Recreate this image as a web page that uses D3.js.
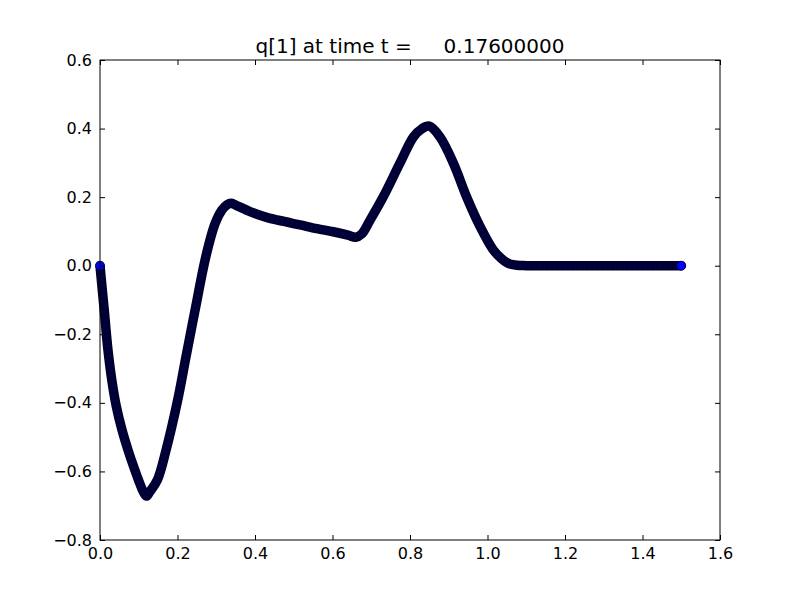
<!DOCTYPE html>
<html>
<head>
<meta charset="utf-8">
<script src="https://cdn.jsdelivr.net/npm/d3@7"></script>
<style>
  body { margin: 0; background: #fff; }
  svg { font-family: "DejaVu Sans", sans-serif; }
</style>
</head>
<body>
<div id="chart"></div>
<script>
// values
var xVals = [0, 0.005, 0.011, 0.020, 0.030, 0.042, 0.057, 0.073, 0.088, 0.100, 0.112, 0.120,
  0.128, 0.148, 0.170, 0.199, 0.222, 0.247, 0.273, 0.297, 0.315, 0.328, 0.338, 0.350, 0.387,
  0.430, 0.475, 0.516, 0.560, 0.602, 0.640, 0.660, 0.675, 0.697, 0.731, 0.774, 0.809, 0.830,
  0.850, 0.877, 0.912, 0.946, 0.981, 1.015, 1.035, 1.049, 1.065, 1.1, 1.2, 1.3, 1.4, 1.5];
var qVals = [0, -0.06, -0.13, -0.24, -0.33, -0.41, -0.48, -0.54, -0.59, -0.627, -0.660, -0.672,
  -0.660, -0.625, -0.54, -0.40, -0.265, -0.12, 0.026, 0.123, 0.163, 0.178, 0.182, 0.177, 0.158,
  0.141, 0.129, 0.119, 0.108, 0.099, 0.089, 0.083, 0.092, 0.133, 0.201, 0.299, 0.376, 0.399,
  0.407, 0.376, 0.299, 0.201, 0.114, 0.046, 0.022, 0.010, 0.003, 0, 0, 0, 0, 0];
var xTicks = [0.0, 0.2, 0.4, 0.6, 0.8, 1.0, 1.2, 1.4, 1.6];
var yTicks = [-0.8, -0.6, -0.4, -0.2, 0.0, 0.2, 0.4, 0.6];
var titleText = "q[1] at time t =     0.17600000";

var svgWidth = 800;
var svgHeight = 600;
var margin = { top: 60, right: 80, bottom: 60, left: 100 };
var chartWidth = svgWidth - margin.left - margin.right;
var chartHeight = svgHeight - margin.top - margin.bottom;

var svg = d3.select("#chart")
    .append("svg")
    .attr("width", svgWidth)
    .attr("height", svgHeight);

var chartGroup = svg.append("g")
    .attr("transform", `translate(${margin.left}, ${margin.top})`);

var xScale = d3.scaleLinear().domain([0, 1.6]).range([0, chartWidth]);
var yScale = d3.scaleLinear().domain([-0.8, 0.6]).range([chartHeight, 0]);

var data = xVals.map((x, i) => ({ x: x, q: qVals[i] }));

// dense markers look like a thick dark band
var line = d3.line()
    .x(d => xScale(d.x))
    .y(d => yScale(d.q))
    .curve(d3.curveCatmullRom.alpha(0.5));

chartGroup.append("path")
    .datum(data)
    .attr("d", line)
    .attr("fill", "none")
    .attr("stroke", "#00002e")
    .attr("stroke-width", 9.5)
    .attr("stroke-linejoin", "round")
    .attr("stroke-linecap", "round");

chartGroup.append("path")
    .datum(data)
    .attr("d", line)
    .attr("fill", "none")
    .attr("stroke", "#0000ff")
    .attr("stroke-opacity", 0.25)
    .attr("stroke-width", 6)
    .attr("stroke-dasharray", "1,4");

// first and last markers stand out
chartGroup.selectAll("circle.end")
    .data([data[0], data[data.length - 1]])
    .enter()
    .append("circle")
    .attr("class", "end")
    .attr("cx", d => xScale(d.x))
    .attr("cy", d => yScale(d.q))
    .attr("r", 4.5)
    .attr("fill", "#0000ff")
    .attr("stroke", "#000")
    .attr("stroke-width", 0.6);

// axes with inward ticks on all sides
var fmt = d3.format(".1f");
var tickSize = 5;

var bottomAxis = d3.axisBottom(xScale).tickValues(xTicks).tickSize(-tickSize).tickPadding(8).tickFormat(fmt);
var topAxis = d3.axisTop(xScale).tickValues(xTicks).tickSize(-tickSize).tickFormat("");
var leftAxis = d3.axisLeft(yScale).tickValues(yTicks).tickSize(-tickSize).tickPadding(8)
    .tickFormat(d => fmt(d).replace("-", "\u2212"));
var rightAxis = d3.axisRight(yScale).tickValues(yTicks).tickSize(-tickSize).tickFormat("");

chartGroup.append("g")
    .attr("class", "axis")
    .attr("transform", `translate(0, ${chartHeight})`)
    .call(bottomAxis);
chartGroup.append("g").attr("class", "axis").call(topAxis);
chartGroup.append("g").attr("class", "axis").call(leftAxis);
chartGroup.append("g")
    .attr("class", "axis")
    .attr("transform", `translate(${chartWidth}, 0)`)
    .call(rightAxis);

chartGroup.selectAll(".axis .domain").remove();
chartGroup.selectAll(".axis line").attr("stroke", "#000").attr("stroke-width", 1);
chartGroup.selectAll(".axis text")
    .attr("font-family", "DejaVu Sans")
    .attr("font-size", "16px")
    .attr("fill", "#000");

// frame
chartGroup.append("rect")
    .attr("x", 0)
    .attr("y", 0)
    .attr("width", chartWidth)
    .attr("height", chartHeight)
    .attr("fill", "none")
    .attr("stroke", "#000")
    .attr("stroke-width", 1);

// title
svg.append("text")
    .attr("x", margin.left + chartWidth / 2)
    .attr("y", 53)
    .attr("text-anchor", "middle")
    .attr("font-size", "20px")
    .attr("fill", "#000")
    .style("white-space", "pre")
    .text(titleText);
</script>
</body>
</html>
